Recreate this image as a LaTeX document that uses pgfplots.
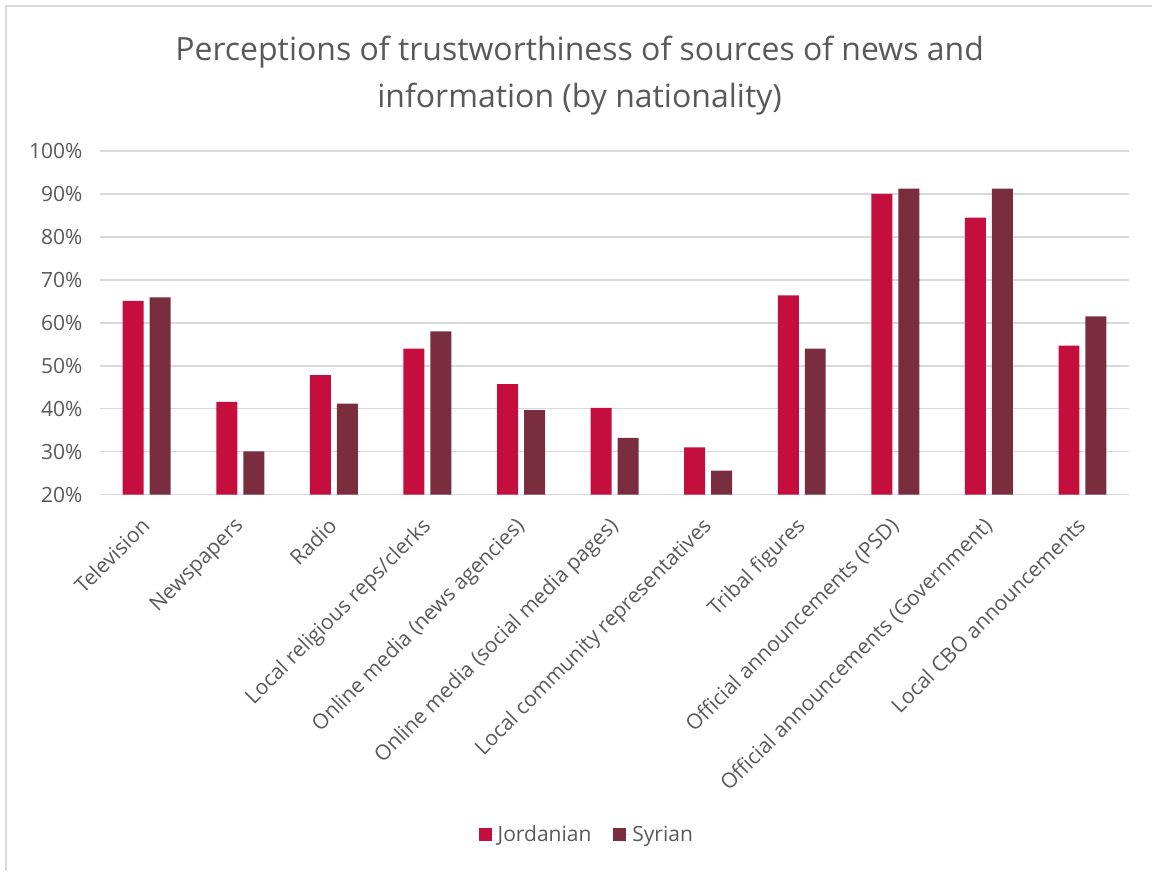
\documentclass[border=0pt]{standalone}
\usepackage{pgfplots}
\pgfplotsset{compat=1.18}
\usepackage{fontspec}
\setmainfont{Open Sans}
\definecolor{jor}{HTML}{C40E3D}
\definecolor{syr}{HTML}{7B2D40}
\definecolor{txt}{HTML}{595959}
\definecolor{grd}{HTML}{D9D9D9}
\begin{document}
\begin{tikzpicture}
\begin{axis}[
  scale only axis, width=1030pt, height=344pt,
  clip=false,
  ybar=6pt, bar width=21pt,
  xmin=-0.5, xmax=10.5, ymin=20, ymax=100,
  enlarge x limits=false,
  ytick={20,30,...,100},
  yticklabel={\pgfmathprintnumber{\tick}\%},
  /pgf/number format/assume math mode=true,
  xtick={0,...,10},
  xticklabels={Television,Newspapers,Radio,Local religious reps/clerks,Online media (news agencies),Online media (social media pages),Local community representatives,Tribal figures,Official announcements (PSD),Official announcements (Government),Local CBO announcements},
  axis line style={draw=none},
  major tick style={draw=none},
  ymajorgrids, grid style={grd, line width=1.5pt},
  tick label style={txt, font=\fontsize{21}{25}\selectfont},
  yticklabel style={xshift=-14pt},
  xticklabel style={xshift=-7pt, yshift=-17pt, rotate=45, anchor=north east, inner sep=0pt},
  legend style={at={(0.473,-0.988)}, anchor=center, draw=none, fill=none, legend columns=2,
    font=\fontsize{21}{25}\selectfont, text=txt,
    /tikz/every even column/.append style={column sep=20pt}},
  legend image code/.code={\fill[#1] (0pt,-6.5pt) rectangle (13pt,6.5pt); \path (0pt,0pt) -- (17pt,0pt);},
]
\addplot[fill=jor, draw=none] coordinates {(0,65.1) (1,41.6) (2,47.8) (3,54.0) (4,45.7) (5,40.2) (6,31.0) (7,66.4) (8,90.0) (9,84.5) (10,54.7)};
\addplot[fill=syr, draw=none] coordinates {(0,65.9) (1,30.1) (2,41.2) (3,58.0) (4,39.7) (5,33.2) (6,25.6) (7,54.0) (8,91.2) (9,91.2) (10,61.5)};
\legend{Jordanian,Syrian}
\path (axis description cs:-0.097087,-1.0959) rectangle (axis description cs:1.02233,1.43895);
\draw[grd, line width=1.5pt] (axis description cs:-0.09126,-1.0959) -- (axis description cs:-0.09126,1.4215) -- (axis description cs:1.02233,1.4215);
\node[txt, font=\fontsize{32}{47}\selectfont, align=center] at (axis description cs:0.4660,1.219) {Perceptions of trustworthiness of sources of news and\\information (by nationality)};
\end{axis}
\end{tikzpicture}
\end{document}
